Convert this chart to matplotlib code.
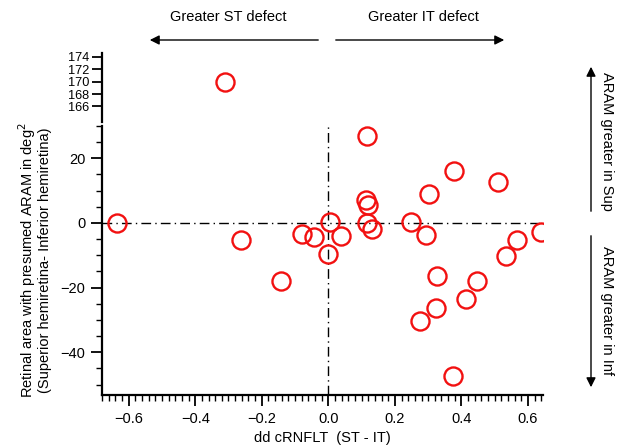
import matplotlib.pyplot as plt
from matplotlib.ticker import MultipleLocator
import numpy as np

plt.rcParams['font.family'] = ['Liberation Sans', 'DejaVu Sans']
plt.rcParams['axes.unicode_minus'] = True

# dd cRNFLT (ST - IT) vs retinal area difference, lower panel
dd_crnflt = [-0.635, -0.263, -0.143, -0.080, -0.043, 0.005, 0.038, 0.0,
             0.117, 0.112, 0.120, 0.115, 0.132, 0.248, 0.292, 0.303,
             0.377, 0.510, 0.638, 0.567, 0.535, 0.327, 0.446, 0.414,
             0.325, 0.276, 0.375]
aram_diff = [-0.1, -5.3, -17.8, -3.3, -4.4, 0.4, -4.1, -9.7,
             26.9, 7.1, 5.5, -0.1, -1.9, 0.4, -3.8, 9.0,
             16.0, 12.6, -2.7, -5.3, -10.2, -16.4, -18.0, -23.4,
             -26.2, -30.2, -47.3]

# outlier shown on the broken upper axis
out_x = [-0.31]
out_y = [169.9]

W, H = 617, 446
fig = plt.figure(figsize=(W / 100, H / 100), dpi=100)

def box(l, t, r, b):
    return [l / W, 1 - b / H, (r - l) / W, (b - t) / H]

ax = fig.add_axes(box(102, 126, 543, 395))
ax_top = fig.add_axes(box(102, 53, 543, 122))

xlim = (-0.68, 0.645)
mk = dict(marker='o', ms=13, mfc='none', mec='#f21111', mew=1.7, ls='none')

ax.axhline(0, color='black', lw=1, ls=(0, (7, 3, 1, 3)), zorder=1)
ax.axvline(0, color='black', lw=1, ls=(0, (7, 3, 1, 3)), zorder=1)
ax.plot(dd_crnflt, aram_diff, **mk, zorder=3)
ax.set_xlim(*xlim)
ax.set_ylim(-53.2, 30)
ax.xaxis.set_minor_locator(MultipleLocator(0.02))
ax.yaxis.set_major_locator(MultipleLocator(20))
ax.yaxis.set_minor_locator(MultipleLocator(5))
ax.set_xticks([-0.6, -0.4, -0.2, 0.0, 0.2, 0.4, 0.6])
ax.set_xticklabels(['\u22120.6', '\u22120.4', '\u22120.2', '0.0', '0.2', '0.4', '0.6'])
for s in ['top', 'right']:
    ax.spines[s].set_visible(False)
for s in ['left', 'bottom']:
    ax.spines[s].set_linewidth(1.6)
ax.tick_params(which='major', direction='out', length=8, width=1.3, labelsize=10.5, pad=4)
ax.tick_params(which='minor', direction='out', length=4, width=1.0)
ax.set_xlabel('dd cRNFLT  (ST - IT)', fontsize=10.5, labelpad=4)
ax.set_ylabel('Retinal area with presumed ARAM in deg$^{2}$\n(Superior hemiretina- Inferior hemiretina)',
              fontsize=10.5, labelpad=6, linespacing=1.0)

ax_top.plot(out_x, out_y, **mk)
ax_top.set_xlim(*xlim)
ax_top.set_ylim(163.5, 174.6)
ax_top.set_yticks([166, 168, 170, 172, 174])
ax_top.set_xticks([])
for s in ['top', 'right', 'bottom']:
    ax_top.spines[s].set_visible(False)
ax_top.spines['left'].set_linewidth(1.6)
ax_top.patch.set_alpha(0)
ax_top.tick_params(direction='out', length=7, width=1.3, pad=2)
for lab in ax_top.get_yticklabels():
    lab.set_fontfamily(['Liberation Sans Narrow', 'Liberation Sans'])
    lab.set_fontsize(9.2)

# direction arrows and labels around the plot
arr = dict(arrowstyle='-|>', color='black', lw=1.0, mutation_scale=14)
fig.add_artist(plt.Annotation('', xy=(147 / W, 1 - 40 / H), xytext=(321 / W, 1 - 40 / H),
                              xycoords='figure fraction', arrowprops=arr))
fig.add_artist(plt.Annotation('', xy=(507 / W, 1 - 40 / H), xytext=(333 / W, 1 - 40 / H),
                              xycoords='figure fraction', arrowprops=arr))
fig.add_artist(plt.Annotation('', xy=(591 / W, 1 - 64 / H), xytext=(591 / W, 1 - 214 / H),
                              xycoords='figure fraction', arrowprops=arr))
fig.add_artist(plt.Annotation('', xy=(591 / W, 1 - 390 / H), xytext=(591 / W, 1 - 233 / H),
                              xycoords='figure fraction', arrowprops=arr))
fig.text(228 / W, 1 - 17 / H, 'Greater ST defect', ha='center', va='center', fontsize=10.5)
fig.text(423 / W, 1 - 17 / H, 'Greater IT defect', ha='center', va='center', fontsize=10.5)
fig.text(607 / W, 1 - 141 / H, 'ARAM greater in Sup', ha='center', va='center',
         rotation=-90, fontsize=10.5)
fig.text(607 / W, 1 - 311 / H, 'ARAM greater in Inf', ha='center', va='center',
         rotation=-90, fontsize=10.5)

fig.savefig('out.png', dpi=100)
